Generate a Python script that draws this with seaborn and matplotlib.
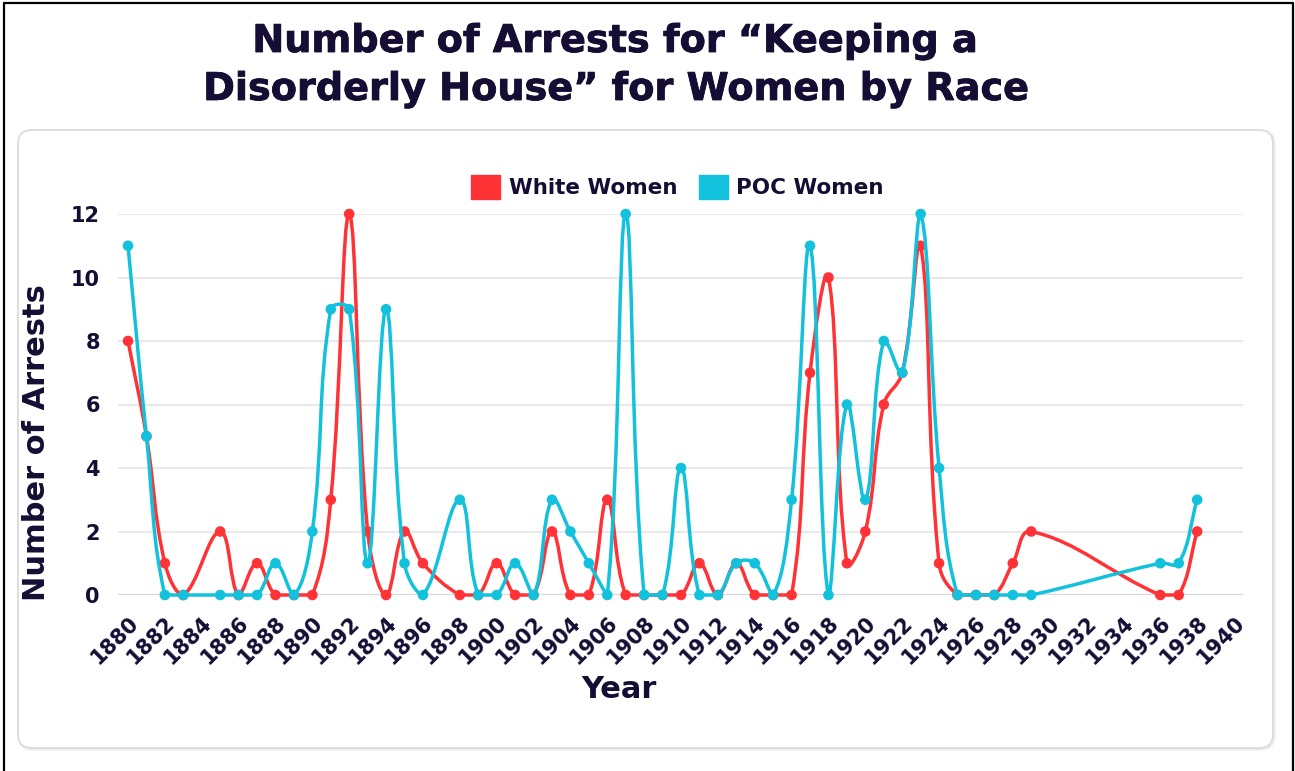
import numpy as np
import pandas as pd
import matplotlib
matplotlib.use("Agg")
import matplotlib.pyplot as plt
import matplotlib.patheffects as pe
import seaborn as sns
from matplotlib.path import Path
from matplotlib.patches import PathPatch, FancyBboxPatch, Patch
from matplotlib.lines import Line2D
from matplotlib.transforms import IdentityTransform

# ---- data -------------------------------------------------------------
white_years = [1880, 1881, 1882, 1883, 1885, 1886, 1887, 1888, 1889, 1890,
               1891, 1892, 1893, 1894, 1895, 1896, 1898, 1899, 1900, 1901,
               1902, 1903, 1904, 1905, 1906, 1907, 1908, 1909, 1910, 1911,
               1912, 1913, 1914, 1915, 1916, 1917, 1918, 1919, 1920, 1921,
               1922, 1923, 1924, 1925, 1926, 1927, 1928, 1929, 1936, 1937,
               1938]
white_counts = [8, 5, 1, 0, 2, 0, 1, 0, 0, 0,
                3, 12, 2, 0, 2, 1, 0, 0, 1, 0,
                0, 2, 0, 0, 3, 0, 0, 0, 0, 1,
                0, 1, 0, 0, 0, 7, 10, 1, 2, 6,
                7, 11, 1, 0, 0, 0, 1, 2, 0, 0,
                2]

poc_years = [1880, 1881, 1882, 1883, 1885, 1886, 1887, 1888, 1889, 1890,
             1891, 1892, 1893, 1894, 1895, 1896, 1898, 1899, 1900, 1901,
             1902, 1903, 1904, 1905, 1906, 1907, 1908, 1909, 1910, 1911,
             1912, 1913, 1914, 1915, 1916, 1917, 1918, 1919, 1920, 1921,
             1922, 1923, 1924, 1925, 1926, 1927, 1928, 1929, 1936, 1937,
             1938]
poc_counts = [11, 5, 0, 0, 0, 0, 0, 1, 0, 2,
              9, 9, 1, 9, 1, 0, 3, 0, 0, 1,
              0, 3, 2, 1, 0, 12, 0, 0, 4, 0,
              0, 1, 1, 0, 3, 11, 0, 6, 3, 8,
              7, 12, 4, 0, 0, 0, 0, 0, 1, 1,
              3]

series_names = ["White Women", "POC Women"]
series_colors = ["#ff3236", "#12c1dc"]
x_ticks = list(range(1880, 1941, 2))
y_ticks = list(range(0, 13, 2))

title_lines = ["Number of Arrests for \u201cKeeping a",
               "Disorderly House\u201d for Women by Race"]
x_label = "Year"
y_label = "Number of Arrests"

# ---- style ------------------------------------------------------------
W, H = 1295, 771
INK = "#150d33"
sns.set_style("white")
plt.rcParams["font.family"] = ["DejaVu Sans"]
plt.rcParams["font.weight"] = "bold"

fig = plt.figure(figsize=(W / 100, H / 100), dpi=100)
fig.patch.set_facecolor("white")


def px_rect(x0, y0, x1, y1):
    """Pixel box measured from the top-left corner -> figure fraction rect."""
    return [x0 / W, 1 - y1 / H, (x1 - x0) / W, (y1 - y0) / H]


# outer frame (left, top, right)
frame_kw = dict(color="black", linewidth=1.6, transform=IdentityTransform(), zorder=-1)
fig.add_artist(Line2D([4, 4], [0, H - 3], **frame_kw))
fig.add_artist(Line2D([4, W - 2.5], [H - 3, H - 3], **frame_kw))
fig.add_artist(Line2D([W - 2.5, W - 2.5], [0, H - 3], **frame_kw))

# rounded card behind the chart
fig.add_artist(FancyBboxPatch((19, H - 749), 1255, 618,
                              boxstyle="round,pad=0,rounding_size=14",
                              transform=IdentityTransform(), zorder=-3,
                              facecolor="none", edgecolor="#ececec", linewidth=2.2))
fig.add_artist(FancyBboxPatch((18, H - 748), 1255, 618,
                              boxstyle="round,pad=0,rounding_size=14",
                              transform=IdentityTransform(), zorder=-2,
                              facecolor="white", edgecolor="#dcdcdc", linewidth=1.3))

# ---- axes -------------------------------------------------------------
ax = fig.add_axes(px_rect(118, 214, 1243, 595))
ax.set_zorder(2)
ax.set_facecolor("none")
ax.set_xlim(1879.457, 1940.488)
ax.set_ylim(0, 12)
for s in ax.spines.values():
    s.set_visible(False)

ax.set_xticks(x_ticks)
ax.set_yticks(y_ticks)
ax.grid(axis="y", color="#e7e7ec", linewidth=1.3, zorder=0)
ax.grid(axis="x", visible=False)
ax.axhline(0, color="#d6d6de", linewidth=1.6, zorder=1)
ax.tick_params(axis="both", length=0, labelsize=15, labelcolor=INK)
ax.tick_params(axis="y", pad=13)
ax.tick_params(axis="x", pad=13)
for lab in ax.get_yticklabels():
    lab.set_fontweight("bold")
for lab in ax.get_xticklabels():
    lab.set_fontweight("bold")
    lab.set_rotation(45)
    lab.set_ha("right")
    lab.set_va("top")
    lab.set_rotation_mode("anchor")


def smooth_path(xs, ys, tension=0.4):
    """Cardinal-spline bezier path through the points (pixel-space weights)."""
    pts = np.column_stack([xs, ys]).astype(float)
    pix = ax.transData.transform(pts)
    n = len(pix)
    c_in = pix.copy()
    c_out = pix.copy()
    (lx, by), (rx, ty) = ax.transData.transform(
        [(ax.get_xlim()[0], ax.get_ylim()[0]), (ax.get_xlim()[1], ax.get_ylim()[1])])
    for i in range(n):
        prev = pix[max(i - 1, 0)]
        cur = pix[i]
        nxt = pix[min(i + 1, n - 1)]
        d01 = np.hypot(*(cur - prev))
        d12 = np.hypot(*(nxt - cur))
        tot = d01 + d12
        s01 = d01 / tot if tot else 0.0
        s12 = d12 / tot if tot else 0.0
        c_in[i] = cur - tension * s01 * (nxt - prev)
        c_out[i] = cur + tension * s12 * (nxt - prev)
    for c in (c_in, c_out):
        c[:, 0] = np.clip(c[:, 0], lx, rx)
        c[:, 1] = np.clip(c[:, 1], by, ty)
    verts = [pix[0]]
    codes = [Path.MOVETO]
    for i in range(n - 1):
        verts += [c_out[i], c_in[i + 1], pix[i + 1]]
        codes += [Path.CURVE4] * 3
    return Path(ax.transData.inverted().transform(np.array(verts)), codes)


frames = [
    pd.DataFrame({"year": white_years, "count": white_counts, "series": series_names[0]}),
    pd.DataFrame({"year": poc_years, "count": poc_counts, "series": series_names[1]}),
]
palette = dict(zip(series_names, series_colors))

for k, df in enumerate(frames):
    color = series_colors[k]
    ax.add_patch(PathPatch(smooth_path(df["year"], df["count"]), facecolor="none",
                           edgecolor=color, linewidth=2.5, zorder=3 + 2 * k,
                           clip_on=False, capstyle="round", joinstyle="round"))
    sns.scatterplot(data=df, x="year", y="count", hue="series", palette=palette,
                    s=58, linewidth=0, legend=False, ax=ax, zorder=4 + 2 * k,
                    clip_on=False)

ax.set_xlabel("")
ax.set_ylabel("")

# ---- text -------------------------------------------------------------
heavy = [pe.withStroke(linewidth=0.6, foreground=INK)]
fig.text(616 / W, 1 - 52 / H, title_lines[0], ha="center", va="baseline",
         fontsize=27.5, fontweight="bold", color=INK, path_effects=heavy)
fig.text(617 / W, 1 - 100 / H, title_lines[1], ha="center", va="baseline",
         fontsize=27.5, fontweight="bold", color=INK, path_effects=heavy)

fig.text(37 / W, 1 - 443 / H, y_label, rotation=90, ha="center", va="center",
         fontsize=22, fontweight="bold", color=INK)
fig.text(619 / W, 1 - 698 / H, x_label, ha="center", va="baseline",
         fontsize=22, fontweight="bold", color=INK)

handles = [Patch(facecolor=c, edgecolor=c) for c in series_colors]
fig.legend(handles, series_names, loc="center", bbox_to_anchor=(677.5 / W, 1 - 187 / H),
           ncol=2, frameon=False, handlelength=1.35, handleheight=1.35,
           handletextpad=0.4, columnspacing=1.0, labelcolor=INK,
           prop={"size": 15.5, "weight": "bold"})

fig.savefig("out.png", dpi=100, facecolor="white")
